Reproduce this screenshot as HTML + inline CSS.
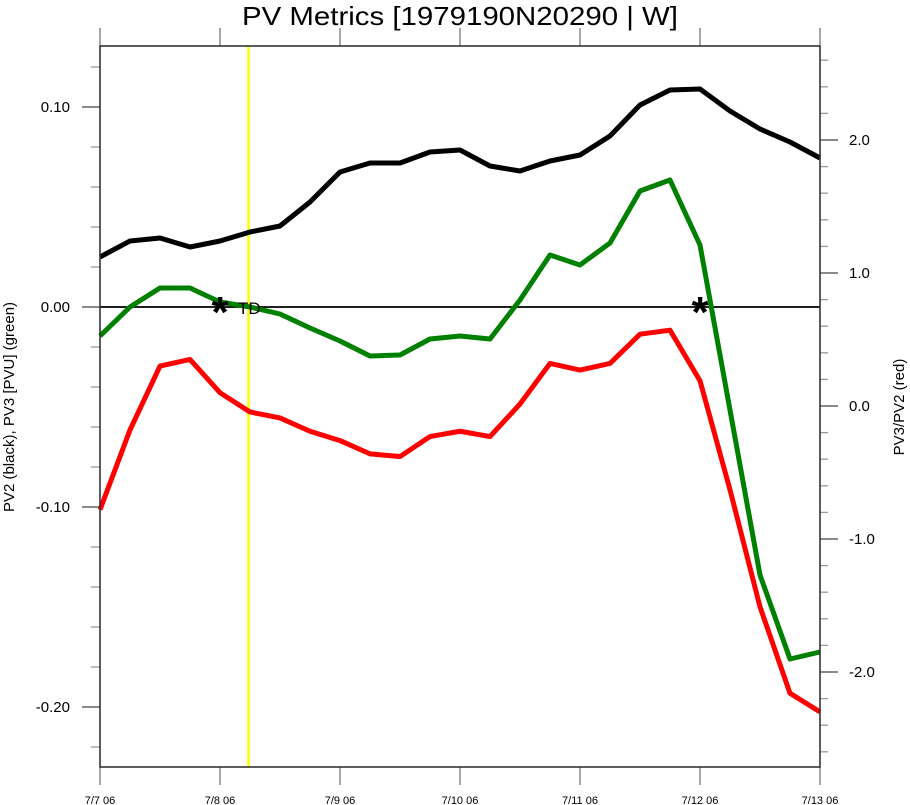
<!DOCTYPE html>
<html><head><meta charset="utf-8"><title>PV Metrics</title>
<style>body{margin:0;background:#fff}svg{display:block;font-family:"Liberation Sans",sans-serif}</style>
</head><body>
<svg id="chart" width="910" height="805" viewBox="0 0 910 805" xmlns="http://www.w3.org/2000/svg"></svg>
<script>
const xLabels = ["7/7 06","7/8 06","7/9 06","7/10 06","7/11 06","7/12 06","7/13 06"];
const pv2 = [0.025,0.033,0.0345,0.030,0.033,0.0375,0.0405,0.0525,0.0675,0.072,0.072,0.0775,0.0785,0.0705,0.068,0.073,0.076,0.0855,0.101,0.1085,0.109,0.098,0.089,0.0825,0.0745];
const pv3 = [-0.0145,0,0.0095,0.0095,0.0025,0,-0.0035,-0.0105,-0.017,-0.0245,-0.024,-0.016,-0.0145,-0.016,0.0035,0.026,0.021,0.032,0.058,0.0635,0.031,-0.0515,-0.134,-0.176,-0.1725];
const ratio = [-0.78,-0.18,0.30,0.35,0.10,-0.045,-0.09,-0.19,-0.26,-0.36,-0.38,-0.23,-0.19,-0.23,0.015,0.32,0.27,0.32,0.54,0.57,0.19,-0.63,-1.51,-2.16,-2.30];
const leftTicks = [0.10,0.00,-0.10,-0.20];
const leftTickLabels = ["0.10","0.00","-0.10","-0.20"];
const rightTicks = [2,1,0,-1,-2];
const rightTickLabels = ["2.0","1.0","0.0","-1.0","-2.0"];
const markerIdx = [4,20];
const vlineIdx = 4.95;

const L=100,R=820,T=46,B=767;
const xs=i=>L+i*30;
const yl=v=>307-v*2000;
const yr=v=>406-v*133;
const svg=document.getElementById('chart');
const NS="http://www.w3.org/2000/svg";
function mk(tag,attrs,parent){const e=document.createElementNS(NS,tag);for(const k in attrs)e.setAttribute(k,attrs[k]);(parent||svg).appendChild(e);return e;}

// ticks
const tg=mk('g',{stroke:'#444','stroke-width':1.3});


for(let v=-0.22;v<=0.121;v+=0.02){const y=yl(v);if(y<T-1||y>B+1)continue;const major=Math.abs(Math.round(v*100)%10)===0;mk('line',{x1:L,x2:major?82:91,y1:y,y2:y,stroke:major?'#444':'#999'},tg);}
for(let v=-2.6;v<=2.61;v+=0.2){const y=yr(v);if(y<T-1||y>B+1)continue;const major=Math.abs(Math.round(v*10)%10)===0;mk('line',{x1:R,x2:major?838:828,y1:y,y2:y,stroke:major?'#444':'#999'},tg);}
xLabels.forEach((l,i)=>{const x=L+i*120;mk('line',{x1:x,x2:x,y1:B,y2:785,stroke:'#777'},tg);mk('line',{x1:x,x2:x,y1:T,y2:28,stroke:'#777'},tg);});

// zero line
const zl=mk('line',{x1:L,x2:R,y1:yl(0),y2:yl(0),stroke:'#000','stroke-width':1.8});



// vertical line
const vl=mk('line',{x1:xs(vlineIdx),x2:xs(vlineIdx),y1:T,y2:B,stroke:'#ffff00','stroke-width':2.5});



function series(arr,fy,color,name){const p=mk('polyline',{points:arr.map((v,i)=>xs(i)+','+fy(v)).join(' '),fill:'none',stroke:color,'stroke-width':5,'stroke-linejoin':'round'});

}
series(ratio,yr,'#ff0000','pv3-pv2-ratio-line');
series(pv3,yl,'#008000','pv3-line');
series(pv2,yl,'#000000','pv2-line');

// markers
markerIdx.forEach(i=>{const t=mk('text',{x:xs(i),y:yl(0)+20,'font-size':44,'font-weight':'bold','text-anchor':'middle',fill:'#000'});t.textContent='*';

});
const td=mk('text',{x:238,y:314,'font-size':17,fill:'#000'});td.textContent='TD';



// frame
const fr=mk('rect',{x:L,y:T,width:R-L,height:B-T,fill:'none',stroke:'#333','stroke-width':1.6});



// labels
leftTicks.forEach((v,i)=>{const t=mk('text',{x:70,y:yl(v)+5,'font-size':15,'text-anchor':'end'});t.textContent=leftTickLabels[i];

});
rightTicks.forEach((v,i)=>{const t=mk('text',{x:849,y:yr(v)+5,'font-size':15});t.textContent=rightTickLabels[i];

});
xLabels.forEach((l,i)=>{const t=mk('text',{x:L+i*120,y:804,'font-size':11,'text-anchor':'middle'});t.textContent=l;

});

const title=mk('text',{x:460,y:25,'font-size':26,'text-anchor':'middle',textLength:436,lengthAdjust:'spacingAndGlyphs'});title.textContent='PV Metrics [1979190N20290 | W]';


const yt=mk('text',{x:0,y:0,'font-size':15,'text-anchor':'middle',transform:'translate(14,407) rotate(-90)'});yt.textContent='PV2 (black), PV3 [PVU] (green)';


const yt2=mk('text',{x:0,y:0,'font-size':15,'text-anchor':'middle',transform:'translate(904,407) rotate(-90)'});yt2.textContent='PV3/PV2 (red)';


</script>
</body></html>
